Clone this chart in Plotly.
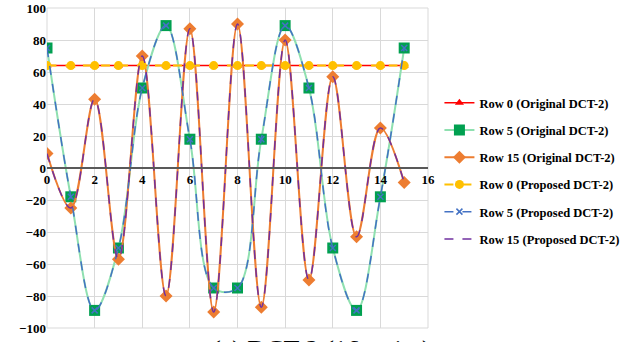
import plotly.graph_objects as go

x_idx = list(range(16))
row0_orig = [64] * 16
row5_orig = [75, -18, -89, -50, 50, 89, 18, -75, -75, 18, 89, 50, -50, -89, -18, 75]
row15_orig = [9, -25, 43, -57, 70, -80, 87, -90, 90, -87, 80, -70, 57, -43, 25, -9]
row0_prop = [64] * 16
row5_prop = [75, -18, -89, -50, 50, 89, 18, -75, -75, 18, 89, 50, -50, -89, -18, 75]
row15_prop = [9, -25, 43, -57, 70, -80, 87, -90, 90, -87, 80, -70, 57, -43, 25, -9]
names = ["Row 0 (Original DCT-2)", "Row 5 (Original DCT-2)", "Row 15 (Original DCT-2)",
         "Row 0 (Proposed DCT-2)", "Row 5 (Proposed DCT-2)", "Row 15 (Proposed DCT-2)"]
x_ticks = [0, 2, 4, 6, 8, 10, 12, 14, 16]
y_ticks = [-100, -80, -60, -40, -20, 0, 20, 40, 60, 80, 100]

FONT = "Liberation Serif"
fig = go.Figure()

specs = [
    (row0_orig, dict(color="#FF0000", width=1.5), dict(symbol="triangle-up", size=8, color="#FF0000")),
    (row5_orig, dict(color="#8FE0B0", width=2), dict(symbol="square", size=11, color="#00A050")),
    (row15_orig, dict(color="#ED7D31", width=2), dict(symbol="diamond", size=10, color="#ED7D31")),
    (row0_prop, dict(color="#FFC000", width=2, dash="dash"), dict(symbol="circle", size=9, color="#FFC000")),
    (row5_prop, dict(color="#4472C4", width=1.5, dash="dash"), dict(symbol="x-thin", size=6, color="#4472C4", line=dict(color="#4472C4", width=1.5))),
    (row15_prop, dict(color="#7030A0", width=1.5, dash="dash"), None),
]
for i, (vals, ln, mk) in enumerate(specs):
    ln = dict(ln, shape="spline", smoothing=1)
    fig.add_trace(go.Scatter(
        x=x_idx, y=vals, name=names[i],
        mode="lines+markers" if mk else "lines",
        line=ln, marker=mk if mk else None,
        legendgroup=f"g{i}",
    ))

fig.update_layout(
    width=635, height=342,
    margin=dict(l=47, r=207, t=8, b=14),
    plot_bgcolor="white", paper_bgcolor="white",
    font=dict(family=FONT, size=13, color="#000000"),
    showlegend=True,
    legend=dict(x=1.03, y=0.75, xanchor="left", yanchor="top",
                font=dict(family=FONT, size=12.5, color="#000000", weight="bold"),
                traceorder="grouped", tracegroupgap=8, itemwidth=30,
                bgcolor="rgba(0,0,0,0)"),
    xaxis=dict(range=[0, 16], tickvals=x_ticks, showgrid=True, gridcolor="#D9D9D9",
               gridwidth=1, zeroline=False, showline=True, linecolor="#595959", linewidth=1.5,
               anchor="free", position=0.5, automargin=False,
               tickfont=dict(family=FONT, size=13, weight="bold"), ticks="", ticklen=0),
    yaxis=dict(range=[-100, 100], tickvals=y_ticks, showgrid=True, gridcolor="#D9D9D9",
               gridwidth=1, zeroline=False, showline=False, ticklabeloverflow="allow",
               automargin=False,
               tickfont=dict(family=FONT, size=13, weight="bold"), ticks=""),
)
fig.add_shape(type="rect", xref="paper", yref="paper", x0=0, x1=1, y0=0, y1=1,
              line=dict(color="#D9D9D9", width=1), layer="below")
fig.add_annotation(text="(a) DCT-2 (16-point)", xref="paper", yref="paper",
                   x=0.72, y=-0.015, xanchor="center", yanchor="top", showarrow=False,
                   font=dict(family=FONT, size=26, color="#000000"))

fig.write_html("out.html")
